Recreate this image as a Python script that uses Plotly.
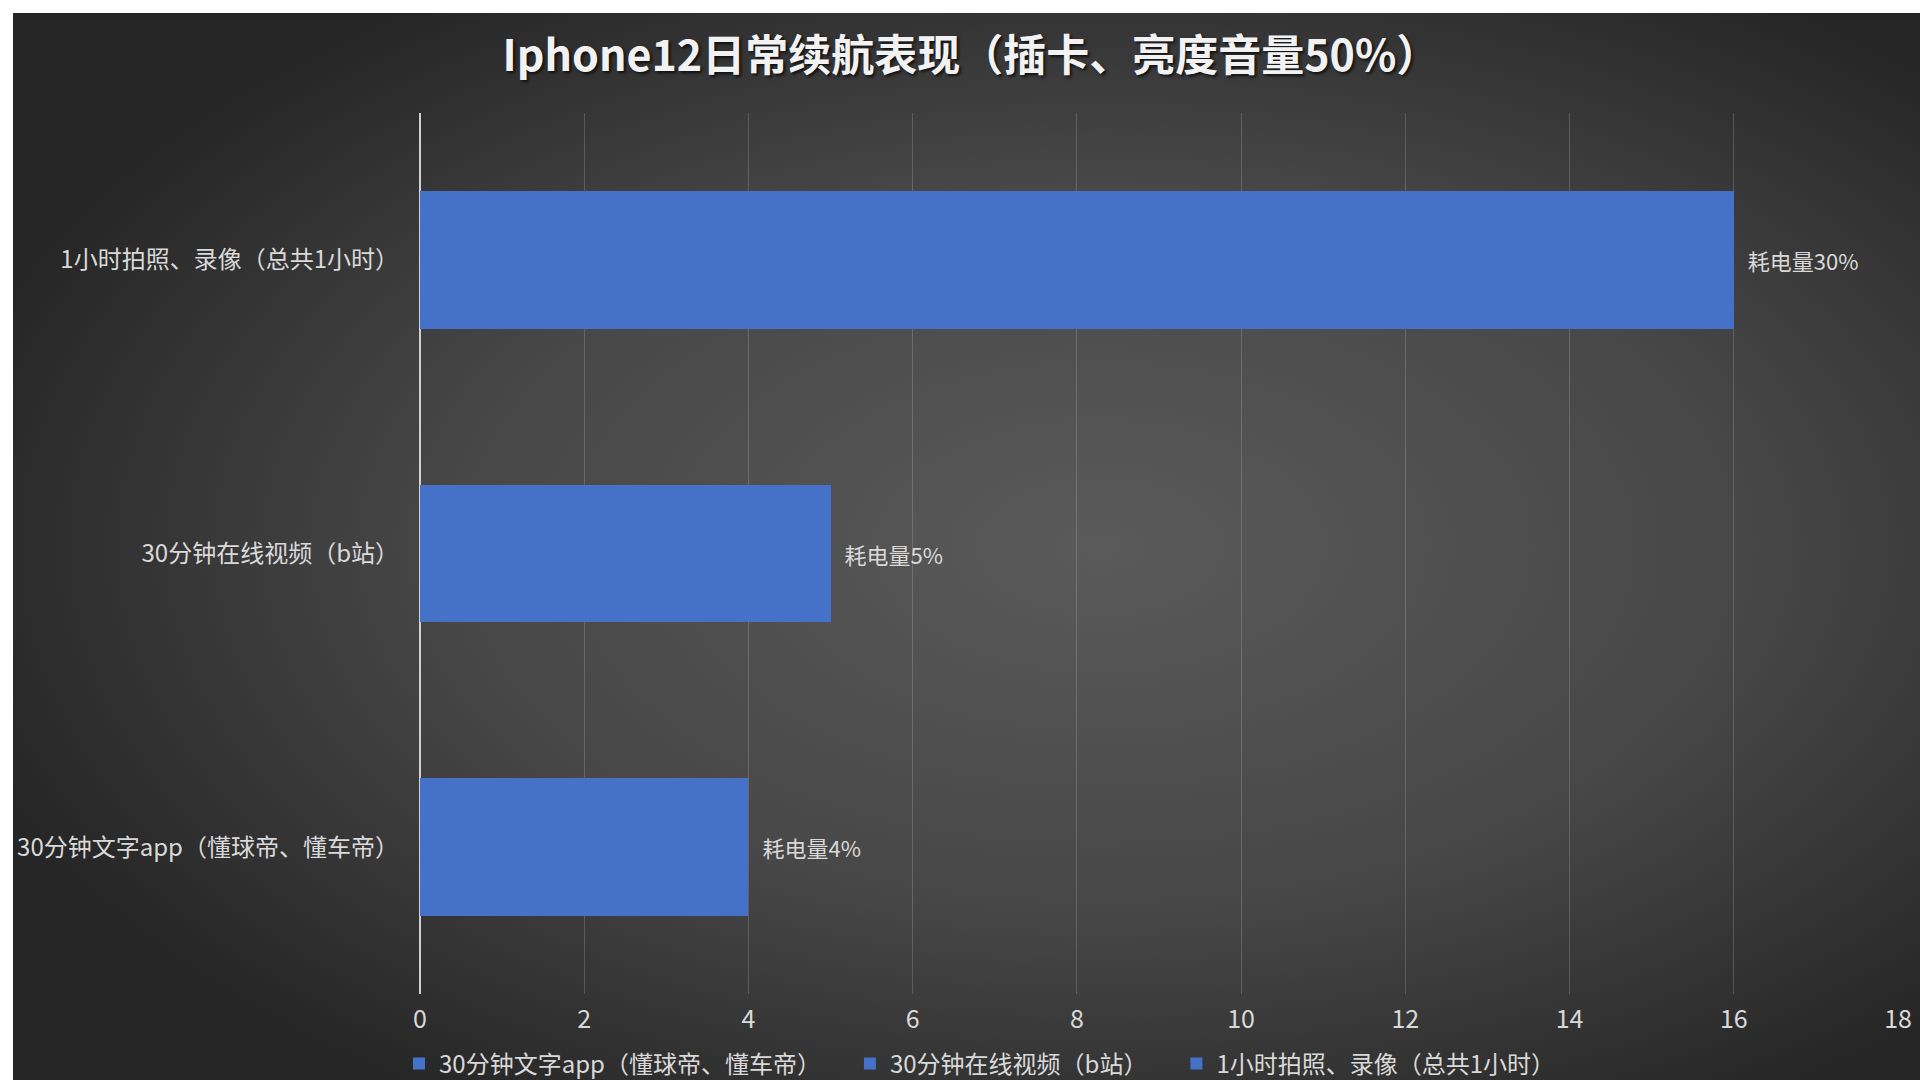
import base64
import plotly.graph_objs as go

# data
categories = ["30分钟文字app（懂球帝、懂车帝）", "30分钟在线视频（b站）", "1小时拍照、录像（总共1小时）"]
values = [4, 5, 16]
bar_labels = ["耗电量4%", "耗电量5%", "耗电量30%"]
x_ticks = [0, 2, 4, 6, 8, 10, 12, 14, 16, 18]

W, H = 1920, 1080
ml, mr, mt, mb = 420, 22, 113, 86
pw = W - ml - mr
ph = H - mt - mb

font = "Noto Sans CJK SC, Noto Sans, sans-serif"
txt = "#d9d9d9"
bar_color = "#4671c8"

traces = []
for i in range(len(categories)):
    traces.append(go.Bar(
        x=[values[i]],
        y=[categories[i]],
        orientation="h",
        name=categories[i] + "\u2003",  # a bit of room between legend entries
        text=[bar_labels[i]],
        texttemplate="\u2002%{text}",
        textposition="outside",
        textfont=dict(size=22, color=txt, family=font),
        marker=dict(color=bar_color, line=dict(width=0)),
        width=0.468,
        cliponaxis=False,
    ))

fig = go.Figure(data=traces)

# radial grey background as an svg image
bg_x0, bg_y0 = 13, 13
bg_w, bg_h = W - bg_x0, H - bg_y0
svg = f'''<svg xmlns="http://www.w3.org/2000/svg" width="{bg_w}" height="{bg_h}" viewBox="0 0 {bg_w} {bg_h}" preserveAspectRatio="none">
<defs><radialGradient id="g" cx="0.57" cy="0.5" r="0.62" gradientUnits="objectBoundingBox">
<stop offset="0" stop-color="#5a5a5a"/><stop offset="0.55" stop-color="#474747"/><stop offset="1" stop-color="#262626"/>
</radialGradient></defs>
<rect width="{bg_w}" height="{bg_h}" fill="url(#g)"/></svg>'''
src = "data:image/svg+xml;base64," + base64.b64encode(svg.encode("utf-8")).decode("ascii")

fig.add_layout_image(dict(
    source=src,
    xref="paper", yref="paper",
    x=(bg_x0 - ml) / pw, y=(H - mb - bg_y0) / ph,
    sizex=bg_w / pw, sizey=bg_h / ph,
    xanchor="left", yanchor="top",
    sizing="stretch", layer="below",
))

fig.update_layout(
    width=W, height=H,
    margin=dict(l=ml, r=mr, t=mt, b=mb, autoexpand=False),
    paper_bgcolor="white",
    plot_bgcolor="rgba(0,0,0,0)",
    barmode="stack",
    font=dict(family=font, color=txt, size=24),
    title=dict(
        text="Iphone12日常续航表现（插卡、亮度音量50%）",
        x=(960 + 11) / W, xref="container", xanchor="center",
        y=1 - 56 / H, yref="container", yanchor="middle",
        font=dict(size=43, color="#f2f2f2", family=font, weight="bold",
                  shadow="2px 2px 3px rgba(0,0,0,0.7)"),
    ),
    xaxis=dict(
        range=[0, 18],
        tickvals=x_ticks,
        showgrid=True, gridcolor="rgba(255,255,255,0.17)", gridwidth=1,
        zeroline=True, zerolinecolor="#cfcfcf", zerolinewidth=1.5,
        showline=False,
        tickfont=dict(size=25, color=txt),
        ticklabelstandoff=8,
        fixedrange=True,
    ),
    yaxis=dict(
        categoryorder="array", categoryarray=categories,
        showgrid=False, zeroline=False, showline=False,
        tickfont=dict(size=24, color=txt),
        ticklabelstandoff=20,
    ),
    legend=dict(
        orientation="h",
        x=(399 - ml) / pw, xanchor="left",
        y=-(1064 - (H - mb)) / ph, yanchor="middle",
        font=dict(size=24, color=txt),
        bgcolor="rgba(0,0,0,0)",
        itemwidth=30,
        traceorder="normal",
    ),
    showlegend=True,
)

fig.write_html("out.html", config={"displayModeBar": False},
               post_script="document.body.style.margin='0';")
